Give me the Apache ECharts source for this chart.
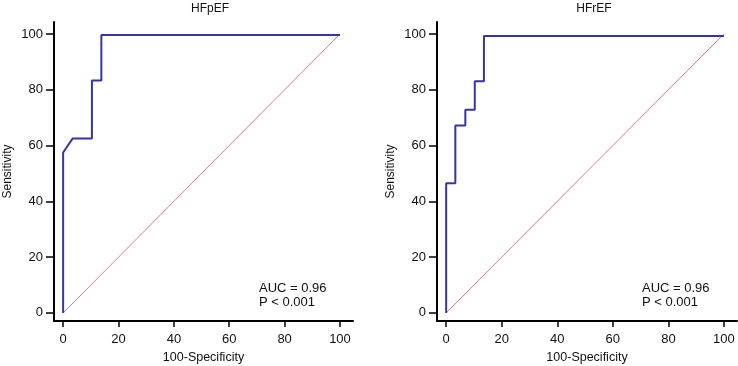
<!DOCTYPE html>
<html><head><meta charset="utf-8">
<script src="https://cdn.jsdelivr.net/npm/echarts@6/dist/echarts.min.js"></script>
<style>html,body{margin:0;padding:0;background:#fff}#c{width:738px;height:366px}</style>
</head><body><div id="c"></div>
<script>
const titles = ['HFpEF', 'HFrEF'];
const tickValues = [0, 20, 40, 60, 80, 100];
const hfpefX = [0, 0, 3.4, 10.4, 10.4, 13.8, 13.8, 100];
const hfpefY = [0, 57.5, 62.5, 62.5, 83.3, 83.3, 99.6, 99.6];
const hfrefX = [0, 0, 3.3, 3.3, 6.9, 6.9, 10.3, 10.3, 13.6, 13.6, 100];
const hfrefY = [0, 46.5, 46.5, 67.2, 67.2, 72.8, 72.8, 83.1, 83.1, 99.3, 99.3];
const refX = [0, 100];
const refY = [0, 100];
const aucVals = ['AUC = 0.96', 'AUC = 0.96'];
const pText = ['P < 0.001', 'P < 0.001'];

const FONT = 'Liberation Sans, Arial, sans-serif';
const pair = (xs, ys) => xs.map((x, i) => [x, ys[i]]);

const grids = [
  {left: 54, top: 22, width: 299, height: 299, outerBoundsMode: 'none', containLabel: false},
  {left: 437, top: 22, width: 300, height: 299, outerBoundsMode: 'none', containLabel: false}
];
function xAxis(i) {
  return {
    type: 'value', gridIndex: i, min: -3.3, max: 104.7,
    name: '100-Specificity', nameLocation: 'middle', nameGap: 30,
    nameTextStyle: {fontFamily: FONT, fontSize: 12.5, color: '#111'},
    axisLine: {show: true, onZero: false, lineStyle: {color: '#000', width: 2}},
    axisTick: {show: true, length: 6, customValues: tickValues, lineStyle: {color: '#000', width: 1.5}},
    axisLabel: {customValues: tickValues, margin: 12, fontFamily: FONT, fontSize: 13, color: '#111'},
    splitLine: {show: false}
  };
}
function yAxis(i) {
  return {
    type: 'value', gridIndex: i, min: -2.9, max: 104.3,
    name: 'Sensitivity', nameLocation: 'middle', nameGap: 40,
    nameTextStyle: {fontFamily: FONT, fontSize: 12, color: '#111'},
    axisLine: {show: true, onZero: false, lineStyle: {color: '#000', width: 2}},
    axisTick: {show: true, length: 8, customValues: tickValues, lineStyle: {color: '#000', width: 1.5}},
    axisLabel: {customValues: tickValues, margin: 11, fontFamily: FONT, fontSize: 13, color: '#111'},
    splitLine: {show: false}
  };
}
const chart = echarts.init(document.getElementById('c'));
chart.setOption({
  animation: false,
  title: [
    {text: titles[0], left: 205, top: -2, textAlign: 'center', textStyle: {fontFamily: FONT, fontSize: 12, fontWeight: 'normal', color: '#111'}},
    {text: titles[1], left: 589, top: -2, textAlign: 'center', textStyle: {fontFamily: FONT, fontSize: 12, fontWeight: 'normal', color: '#111'}}
  ],
  grid: grids,
  xAxis: [xAxis(0), xAxis(1)],
  yAxis: [yAxis(0), yAxis(1)],
  graphic: [
    {type: 'text', left: 259, top: 281, style: {text: aucVals[0] + '\n' + pText[0], fontFamily: FONT, fontSize: 13, lineHeight: 14, fill: '#111'}},
    {type: 'text', left: 642, top: 281, style: {text: aucVals[1] + '\n' + pText[1], fontFamily: FONT, fontSize: 13, lineHeight: 14, fill: '#111'}}
  ],
  series: [
    {type: 'line', xAxisIndex: 0, yAxisIndex: 0, data: pair(refX, refY), symbol: 'none', lineStyle: {color: '#e07880', width: 1}, z: 2},
    {type: 'line', xAxisIndex: 0, yAxisIndex: 0, data: pair(hfpefX, hfpefY), symbol: 'none', lineStyle: {color: '#3535a3', width: 2}, z: 3},
    {type: 'line', xAxisIndex: 1, yAxisIndex: 1, data: pair(refX, refY), symbol: 'none', lineStyle: {color: '#e07880', width: 1}, z: 2},
    {type: 'line', xAxisIndex: 1, yAxisIndex: 1, data: pair(hfrefX, hfrefY), symbol: 'none', lineStyle: {color: '#3535a3', width: 2}, z: 3}
  ]
});
</script></body></html>
